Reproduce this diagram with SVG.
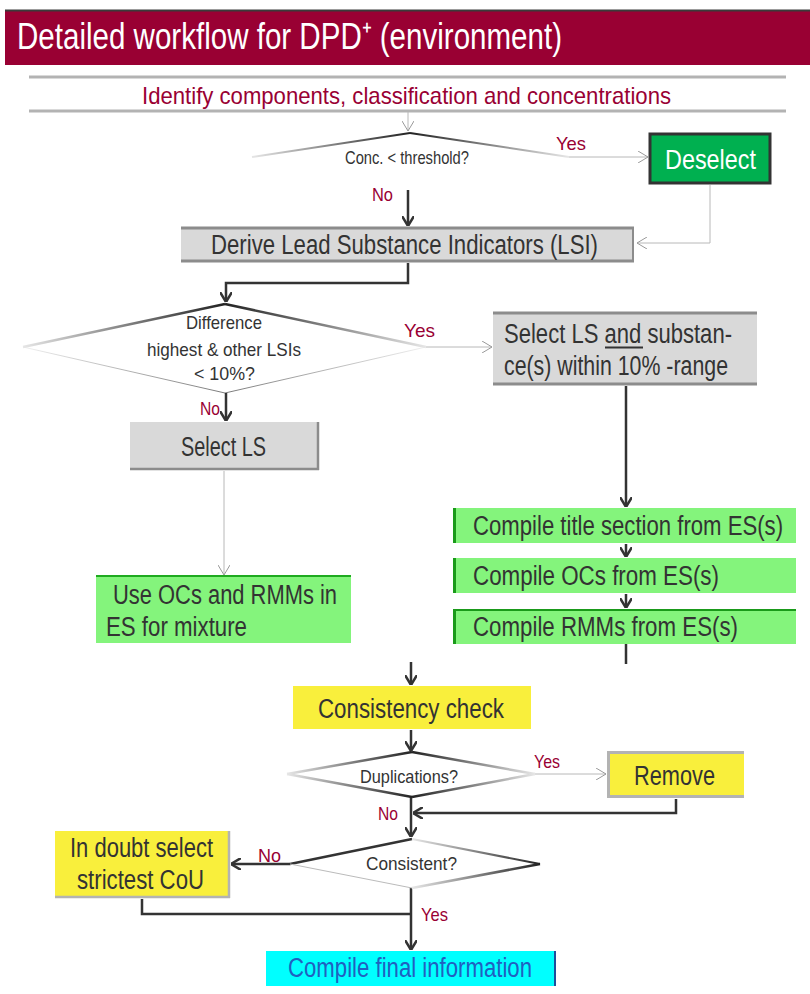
<svg xmlns="http://www.w3.org/2000/svg" width="810" height="994" viewBox="0 0 810 994">
<style>
  text { font-family: "Liberation Sans", Arial, sans-serif; }
  .t { fill: #333333; font-size: 27px; }
  .s { fill: #333333; font-size: 19px; }
  .lbl { fill: #990033; font-size: 19px; }
  .gray { fill: #d9d9d9; }
  .green { fill: #84f47c; }
  .yellow { fill: #f9ef3c; }
  .thin { stroke: #b8b8b8; stroke-width: 1; fill: none; }
  .thick { stroke: #333333; stroke-width: 2.5; fill: none; }
  .gborder { stroke: #8c8c8c; stroke-width: 3; fill: none; }
</style>
<defs>
  <marker id="aThin" viewBox="0 0 10 12" refX="10" refY="6" markerWidth="10" markerHeight="12" markerUnits="userSpaceOnUse" orient="auto">
    <path d="M0,0 L10,6 L0,12" fill="none" stroke="#999999" stroke-width="1"/>
  </marker>
  <marker id="aThick" viewBox="0 0 10 12" refX="10" refY="6" markerWidth="10" markerHeight="12" markerUnits="userSpaceOnUse" orient="auto">
    <path d="M0,0 L10,6 L0,12" fill="none" stroke="#333333" stroke-width="2.5"/>
  </marker>
  <linearGradient id="lt2dk" x1="0" y1="0" x2="1" y2="0">
    <stop offset="0" stop-color="#e6e6e6"/>
    <stop offset="1" stop-color="#222222"/>
  </linearGradient>
  <linearGradient id="dk2lt" x1="0" y1="0" x2="1" y2="0">
    <stop offset="0" stop-color="#222222"/>
    <stop offset="1" stop-color="#e6e6e6"/>
  </linearGradient>
</defs>

<!-- header -->
<g id="header">
  <rect x="5" y="10" width="805" height="55" fill="#990033"/>
  <line x1="5" y1="10.5" x2="810" y2="10.5" stroke="#3a3a3a" stroke-width="2"/>
  <text x="17" y="49" fill="#ffffff" font-size="36" textLength="545" lengthAdjust="spacingAndGlyphs">Detailed workflow for DPD⁺ (environment)</text>
</g>

<g id="identify">
  <line x1="29" y1="77" x2="786" y2="77" stroke="#b3b3b3" stroke-width="3"/>
  <line x1="29" y1="111" x2="786" y2="111" stroke="#b3b3b3" stroke-width="3"/>
  <text x="142" y="104" fill="#990033" font-size="24" textLength="529" lengthAdjust="spacingAndGlyphs">Identify components, classification and concentrations</text>
</g>

<!-- connectors -->
<g id="connectors">
  <line class="thin" x1="408" y1="112" x2="408" y2="131" marker-end="url(#aThin)"/>
  <line class="thin" x1="569" y1="157" x2="648" y2="157" marker-end="url(#aThin)"/>
  <line class="thick" x1="408" y1="190" x2="408" y2="226" stroke-width="2" marker-end="url(#aThick)"/>
  <polyline class="thin" points="710,185 710,243 637,243" marker-end="url(#aThin)"/>
  <polyline class="thick" points="408,263 408,283 226,283 226,302" marker-end="url(#aThick)"/>
  <line class="thin" x1="426" y1="347" x2="492" y2="347" marker-end="url(#aThin)"/>
  <line class="thick" x1="226" y1="393" x2="226" y2="421" stroke-width="2" marker-end="url(#aThick)"/>
  <line class="thick" x1="626" y1="386" x2="626" y2="507" marker-end="url(#aThick)"/>
  <line class="thin" x1="224" y1="471" x2="224" y2="575" marker-end="url(#aThin)"/>
  <line class="thick" x1="626" y1="544" x2="626" y2="557" marker-end="url(#aThick)"/>
  <line class="thick" x1="626" y1="594" x2="626" y2="608" marker-end="url(#aThick)"/>
  <line class="thick" x1="626" y1="644" x2="626" y2="664"/>
  <line class="thick" x1="411" y1="662" x2="411" y2="685" marker-end="url(#aThick)"/>
  <line class="thick" x1="411" y1="730" x2="411" y2="751" marker-end="url(#aThick)"/>
  <line class="thin" x1="535" y1="774" x2="606" y2="774" marker-end="url(#aThin)"/>
  <polyline class="thick" points="676,799 676,813 413,813" stroke-width="3" marker-end="url(#aThick)"/>
  <line class="thick" x1="411" y1="797" x2="411" y2="837" marker-end="url(#aThick)"/>
  <line class="thick" x1="290" y1="864" x2="231" y2="864" stroke-width="3" marker-end="url(#aThick)"/>
  <polyline class="thick" points="142,899 142,914 410,914" stroke-width="3"/>
  <line class="thick" x1="411" y1="888" x2="411" y2="950" stroke-width="2" marker-end="url(#aThick)"/>
</g>

<!-- decision 1 -->
<g id="d-conc">
  <polygon points="410,133 569,157 410,181 252,157" fill="#ffffff"/>
  <path d="M252,157 L410,133" stroke="url(#lt2dk)" stroke-width="2" fill="none"/>
  <path d="M410,133 L569,157" stroke="url(#dk2lt)" stroke-width="2" fill="none"/>
  <text class="s" x="345" y="164" font-size="16" textLength="124" lengthAdjust="spacingAndGlyphs">Conc. &lt; threshold?</text>
  <text class="lbl" x="556" y="150" textLength="30" lengthAdjust="spacingAndGlyphs">Yes</text>
  <text class="lbl" x="372" y="201" textLength="21" lengthAdjust="spacingAndGlyphs">No</text>
</g>

<g id="deselect">
  <rect x="650" y="134" width="120" height="49" fill="#00b050" stroke="#333333" stroke-width="3"/>
  <text x="665" y="169" fill="#ffffff" font-size="28" textLength="91" lengthAdjust="spacingAndGlyphs">Deselect</text>
</g>

<g id="lsi">
  <rect class="gray" x="181" y="227" width="453" height="35"/>
  <line class="gborder" x1="181" y1="228" x2="634" y2="228"/>
  <line class="gborder" x1="181" y1="261" x2="634" y2="261"/>
  <line x1="633" y1="227" x2="633" y2="262" stroke="#8c8c8c" stroke-width="2"/>
  <text class="t" x="211" y="254" textLength="387" lengthAdjust="spacingAndGlyphs">Derive Lead Substance Indicators (LSI)</text>
</g>

<!-- decision 2 -->
<g id="d-diff">
  <polygon points="225,304 426,347 225,393 23,347" fill="#ffffff"/>
  <path d="M23,347 L225,304" stroke="url(#lt2dk)" stroke-width="2.5" fill="none"/>
  <path d="M225,304 L426,347" stroke="url(#dk2lt)" stroke-width="2.5" fill="none"/>
  <path d="M23,347 L225,393" stroke="url(#lt2dk)" stroke-width="1" fill="none" opacity="0.6"/>
  <path d="M225,393 L426,347" stroke="url(#dk2lt)" stroke-width="1" fill="none" opacity="0.6"/>
  <text class="s" x="186" y="329" textLength="76" lengthAdjust="spacingAndGlyphs">Difference</text>
  <text class="s" x="147" y="356" textLength="154" lengthAdjust="spacingAndGlyphs">highest &amp; other LSIs</text>
  <text class="s" x="194" y="380" textLength="61" lengthAdjust="spacingAndGlyphs">&lt; 10%?</text>
  <text class="lbl" x="404" y="337" textLength="31" lengthAdjust="spacingAndGlyphs">Yes</text>
  <text class="lbl" x="200" y="415" textLength="20" lengthAdjust="spacingAndGlyphs">No</text>
</g>

<g id="select-ls-and">
  <rect class="gray" x="493" y="312" width="264" height="73"/>
  <line class="gborder" x1="493" y1="313" x2="757" y2="313"/>
  <line class="gborder" x1="493" y1="384" x2="757" y2="384"/>
  <text class="t" x="504" y="343" textLength="228" lengthAdjust="spacingAndGlyphs">Select LS and substan-</text>
  <line x1="605" y1="347.5" x2="643" y2="347.5" stroke="#333333" stroke-width="2"/>
  <text class="t" x="504" y="375" textLength="224" lengthAdjust="spacingAndGlyphs">ce(s) within 10% -range</text>
</g>

<g id="select-ls">
  <rect class="gray" x="130" y="422" width="189" height="48"/>
  <line x1="318" y1="422" x2="318" y2="470" stroke="#8c8c8c" stroke-width="2.5"/>
  <line x1="130" y1="469" x2="319" y2="469" stroke="#8c8c8c" stroke-width="2.5"/>
  <text class="t" x="181" y="456" textLength="85" lengthAdjust="spacingAndGlyphs">Select LS</text>
</g>

<g id="use-ocs">
  <rect class="green" x="96" y="575" width="255" height="68"/>
  <line x1="96" y1="576" x2="351" y2="576" stroke="#1faa1f" stroke-width="2"/>
  <text class="t" x="113" y="604" textLength="224" lengthAdjust="spacingAndGlyphs">Use OCs and RMMs in</text>
  <text class="t" x="106" y="636" textLength="141" lengthAdjust="spacingAndGlyphs">ES for mixture</text>
</g>

<g id="compile-title">
  <rect class="green" x="453" y="508" width="343" height="35"/>
  <line x1="454.5" y1="508" x2="454.5" y2="543" stroke="#1a9a1a" stroke-width="3"/>
  <text class="t" x="473" y="535" font-size="22" textLength="310" lengthAdjust="spacingAndGlyphs">Compile title section from ES(s)</text>
</g>
<g id="compile-ocs">
  <rect class="green" x="453" y="558" width="343" height="35"/>
  <line x1="454.5" y1="558" x2="454.5" y2="593" stroke="#1a9a1a" stroke-width="3"/>
  <text class="t" x="473" y="585" font-size="26" textLength="246" lengthAdjust="spacingAndGlyphs">Compile OCs from ES(s)</text>
</g>
<g id="compile-rmms">
  <rect class="green" x="453" y="609" width="343" height="35"/>
  <line x1="454.5" y1="609" x2="454.5" y2="644" stroke="#1a9a1a" stroke-width="3"/>
  <line x1="453" y1="610" x2="796" y2="610" stroke="#1a9a1a" stroke-width="2"/>
  <text class="t" x="473" y="636" font-size="26" textLength="265" lengthAdjust="spacingAndGlyphs">Compile RMMs from ES(s)</text>
</g>

<g id="consistency-check">
  <rect class="yellow" x="293" y="686" width="238" height="43"/>
  <text class="t" x="318" y="718" textLength="186" lengthAdjust="spacingAndGlyphs">Consistency check</text>
</g>

<!-- decision 3 -->
<g id="d-dup">
  <polygon points="412,752 535,774 412,797 287,774" fill="#ffffff"/>
  <path d="M287,774 L412,752" stroke="url(#lt2dk)" stroke-width="2.5" fill="none"/>
  <path d="M412,752 L535,774" stroke="url(#dk2lt)" stroke-width="2.5" fill="none"/>
  <path d="M287,774 L412,797" stroke="url(#lt2dk)" stroke-width="2.5" fill="none"/>
  <path d="M412,797 L535,774" stroke="url(#dk2lt)" stroke-width="2.5" fill="none"/>
  <text class="s" x="360" y="783" textLength="98" lengthAdjust="spacingAndGlyphs">Duplications?</text>
  <text class="lbl" x="534" y="768" textLength="26" lengthAdjust="spacingAndGlyphs">Yes</text>
  <text class="lbl" x="378" y="820" textLength="20" lengthAdjust="spacingAndGlyphs">No</text>
</g>

<g id="remove">
  <rect class="yellow" x="607" y="751" width="137" height="47"/>
  <polyline points="744,752.5 608.5,752.5 608.5,796.5 744,796.5" fill="none" stroke="#b3b3b3" stroke-width="3"/>
  <text class="t" x="634" y="785" textLength="81" lengthAdjust="spacingAndGlyphs">Remove</text>
</g>

<!-- decision 4 -->
<g id="d-consistent">
  <polygon points="412,839 540,864 412,888 290,864" fill="#ffffff"/>
  <path d="M290,864 L412,839" stroke="#333333" stroke-width="2.5" fill="none"/>
  <path d="M412,839 L540,864" stroke="url(#lt2dk)" stroke-width="2" fill="none"/>
  <path d="M540,864 L412,888" stroke="url(#lt2dk)" stroke-width="2.5" fill="none"/>
  <path d="M290,864 L412,888" stroke="#bbbbbb" stroke-width="1" fill="none"/>
  <text class="s" x="366" y="870" textLength="91" lengthAdjust="spacingAndGlyphs">Consistent?</text>
  <text class="lbl" x="258" y="862" textLength="23" lengthAdjust="spacingAndGlyphs">No</text>
  <text class="lbl" x="421" y="921" textLength="27" lengthAdjust="spacingAndGlyphs">Yes</text>
</g>

<g id="in-doubt">
  <rect class="yellow" x="55" y="831" width="175" height="67"/>
  <line x1="229" y1="831" x2="229" y2="898" stroke="#b3b3b3" stroke-width="2.5"/>
  <line x1="55" y1="897" x2="230" y2="897" stroke="#b3b3b3" stroke-width="2.5"/>
  <text class="t" x="70" y="857" textLength="143" lengthAdjust="spacingAndGlyphs">In doubt select</text>
  <text class="t" x="77" y="889" textLength="127" lengthAdjust="spacingAndGlyphs">strictest CoU</text>
</g>

<g id="compile-final">
  <rect x="266" y="951" width="290" height="35" fill="#00ffff"/>
  <line x1="555" y1="951" x2="555" y2="986" stroke="#1f4e9a" stroke-width="2"/>
  <text x="288" y="977" fill="#2060c0" font-size="27" textLength="244" lengthAdjust="spacingAndGlyphs">Compile final information</text>
</g>
</svg>
